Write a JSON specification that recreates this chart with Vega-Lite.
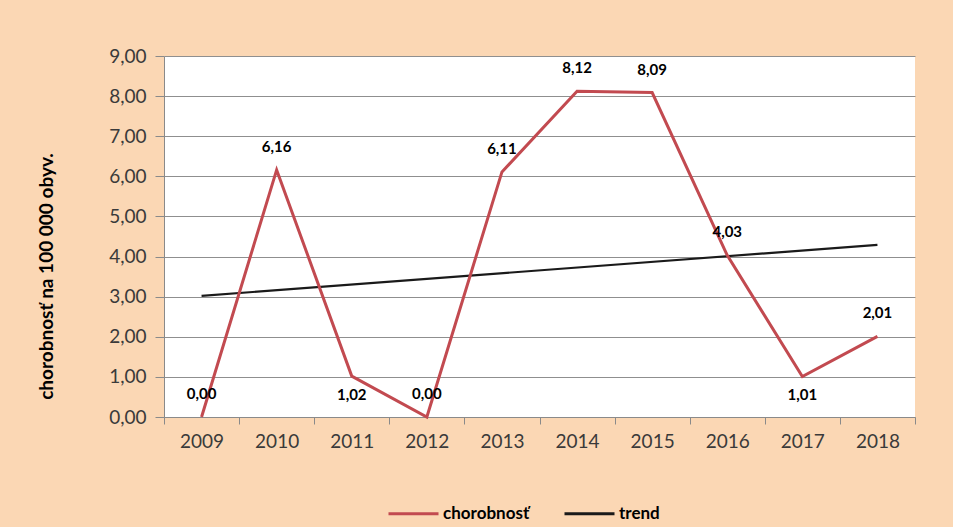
{
  "$schema": "https://vega.github.io/schema/vega-lite/v6.json",
  "autosize": {"type": "none"},
  "padding": {"left": 164, "top": 56, "right": 38, "bottom": 110},
  "width": 751,
  "height": 361,
  "background": "#FBD7B4",
  "datasets": {
    "main": [
      {"year": "2009", "value": 0.0},
      {"year": "2010", "value": 6.16},
      {"year": "2011", "value": 1.02},
      {"year": "2012", "value": 0.0},
      {"year": "2013", "value": 6.11},
      {"year": "2014", "value": 8.12},
      {"year": "2015", "value": 8.09},
      {"year": "2016", "value": 4.03},
      {"year": "2017", "value": 1.01},
      {"year": "2018", "value": 2.01}
    ],
    "trend": [
      {"year": "2009", "value": 3.02},
      {"year": "2018", "value": 4.29}
    ]
  },
  "encoding": {
    "x": {
      "field": "year",
      "type": "ordinal",
      "scale": {"paddingInner": 0, "paddingOuter": 0},
      "axis": {
        "title": null,
        "labelAngle": 0,
        "tickBand": "extent",
        "labelFont": "Lato",
        "labelFontSize": 19,
        "labelColor": "#3a3a3a",
        "labelPadding": 8,
        "tickSize": 7,
        "tickColor": "#8a8a8a",
        "domainColor": "#8a8a8a",
        "grid": false
      }
    },
    "y": {
      "field": "value",
      "type": "quantitative",
      "scale": {"domain": [0, 9], "nice": false, "zero": true},
      "axis": {
        "title": "chorobnosť na 100 000 obyv.",
        "values": [0, 1, 2, 3, 4, 5, 6, 7, 8, 9],
        "format": ".2f",
        "labelFont": "Lato",
        "labelFontSize": 19,
        "labelColor": "#3a3a3a",
        "labelPadding": 9,
        "tickSize": 9,
        "tickColor": "#8a8a8a",
        "domainColor": "#8a8a8a",
        "gridColor": "#8f8f8f",
        "gridWidth": 1,
        "titleFont": "Lato",
        "titleFontSize": 19,
        "titleFontWeight": "bold",
        "titleColor": "#000000",
        "titlePadding": 52,
        "titleY": 220
      }
    }
  },
  "layer": [
    {
      "data": {"name": "trend"},
      "mark": {"type": "line", "strokeWidth": 2.2},
      "encoding": {"color": {"datum": "trend"}}
    },
    {
      "data": {"name": "main"},
      "mark": {"type": "line", "strokeWidth": 3},
      "encoding": {
        "color": {
          "datum": "chorobnosť",
          "scale": {"domain": ["chorobnosť", "trend"], "range": ["#C24A50", "#1a1a1a"]},
          "legend": {
            "title": null,
            "orient": "none",
            "direction": "horizontal",
            "legendX": 223,
            "legendY": 431,
            "symbolType": "stroke",
            "symbolSize": 2500,
            "symbolStrokeWidth": 3,
            "labelFont": "Lato",
            "labelFontSize": 17,
            "labelFontWeight": "bold",
            "labelColor": "#000000",
            "labelOffset": 3,
            "columnPadding": 28
          }
        }
      }
    },
    {
      "data": {"name": "main"},
      "transform": [{"filter": {"not": {"field": "year", "oneOf": ["2011", "2017"]}}}],
      "mark": {"type": "text", "dy": -23, "font": "Lato", "fontSize": 15, "fontWeight": "bold", "color": "#000000"},
      "encoding": {"text": {"field": "value", "type": "quantitative", "format": ".2f"}}
    },
    {
      "data": {"name": "main"},
      "transform": [{"filter": {"field": "year", "oneOf": ["2011", "2017"]}}],
      "mark": {"type": "text", "dy": 19, "font": "Lato", "fontSize": 15, "fontWeight": "bold", "color": "#000000"},
      "encoding": {"text": {"field": "value", "type": "quantitative", "format": ".2f"}}
    }
  ],
  "config": {
    "locale": {"number": {"decimal": ",", "thousands": " ", "grouping": [3], "currency": ["", " €"]}},
    "view": {"fill": "#FFFFFF", "stroke": null}
  }
}
